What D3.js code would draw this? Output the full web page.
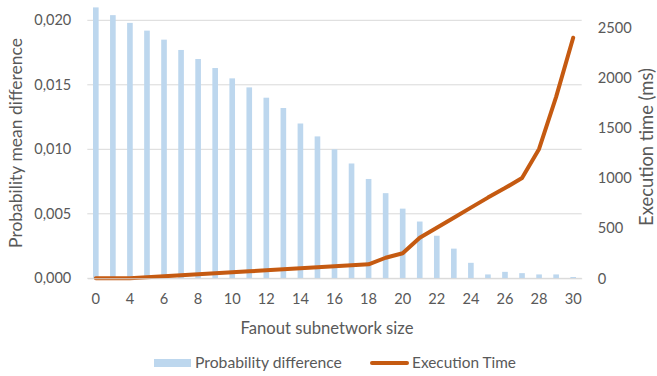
<!DOCTYPE html>
<html>
<head>
<meta charset="utf-8">
<script src="https://cdn.jsdelivr.net/npm/d3@7"></script>
<style>
  html, body { margin: 0; padding: 0; background: #fff; }
  svg { display: block; font-family: Lato, "Open Sans", sans-serif; }
</style>
</head>
<body>
<svg id="chart" width="657" height="376"></svg>
<script>
// Fanout subnetwork sizes (x categories)
const fanoutSizes = ["0", "2", "4", "5", "6", "7", "8", "9", "10", "11", "12", "13", "14", "15", "16",
  "17", "18", "19", "20", "21", "22", "23", "24", "25", "26", "27", "28", "29", "30"];

// Probability mean difference per fanout size (left axis, bars)
const probDiff = [0.0210, 0.0204, 0.0198, 0.0192, 0.0185, 0.0177, 0.0170, 0.0163, 0.0155, 0.0148,
  0.0140, 0.0132, 0.0120, 0.0110, 0.0100, 0.0089, 0.0077, 0.0066, 0.0054, 0.0044,
  0.0033, 0.0023, 0.0012, 0.0003, 0.0005, 0.0004, 0.0003, 0.0003, 0.0001];

// Execution time in ms per fanout size (right axis, line)
const execTime = [0, 0, 0, 10, 20, 30, 40, 50, 60, 70, 80, 90, 100, 110, 120, 130, 140,
  205, 250, 405, 505, 605, 705, 805, 900, 1000, 1290, 1810, 2400];

// Axis tick values
const leftTicks = [0, 0.005, 0.010, 0.015, 0.020];
const rightTicks = [0, 500, 1000, 1500, 2000, 2500];

const textColor = "#595959";
const gridColor = "#D9D9D9";
const barColor = "#BDD7EE";
const lineColor = "#C55A11";

const svg = d3.select("#chart");
const plot = { left: 87.3, right: 581.7, top: 20.3, bottom: 278.3 };

// Scale a text's font size so that it spans the given width
function fitText(sel, width) {
  sel.each(function () {
    const base = 16;
    this.style.fontSize = base + "px";
    const w = this.getComputedTextLength();
    if (w > 0) this.style.fontSize = (base * width / w).toFixed(2) + "px";
  });
}

const x = d3.scaleBand()
  .domain(fanoutSizes)
  .range([plot.left, plot.right])
  .paddingInner(0.67)
  .paddingOuter(0.335);

const yLeft = d3.scaleLinear().domain([0, 0.020]).range([plot.bottom, plot.top]);
const yRight = d3.scaleLinear().domain([0, 2500]).range([plot.bottom, 27.7]);

const fmtLeft = v => d3.format(".3f")(v).replace(".", ",");

// Gridlines from the left axis
svg.append("g")
  .selectAll("line")
  .data(leftTicks)
  .join("line")
  .attr("x1", plot.left).attr("x2", plot.right)
  .attr("y1", d => yLeft(d)).attr("y2", d => yLeft(d))
  .attr("stroke", gridColor).attr("stroke-width", 1);

// Bars
svg.append("g")
  .selectAll("rect")
  .data(fanoutSizes.map((k, i) => ({ k, v: probDiff[i] })))
  .join("rect")
  .attr("x", d => x(d.k))
  .attr("width", x.bandwidth())
  .attr("y", d => yLeft(d.v))
  .attr("height", d => yLeft(0) - yLeft(d.v))
  .attr("fill", barColor);

// Execution time line
const center = k => x(k) + x.bandwidth() / 2;
const line = d3.line()
  .x((d, i) => center(fanoutSizes[i]))
  .y(d => yRight(d));
svg.append("path")
  .datum(execTime)
  .attr("d", line)
  .attr("fill", "none")
  .attr("stroke", lineColor)
  .attr("stroke-width", 4)
  .attr("stroke-linejoin", "round")
  .attr("stroke-linecap", "round");

// Left axis
const leftAxis = svg.append("g")
  .attr("transform", `translate(${plot.left},0)`)
  .call(d3.axisLeft(yLeft).tickValues(leftTicks).tickFormat(fmtLeft).tickSize(0).tickPadding(16));
leftAxis.select(".domain").remove();
leftAxis.selectAll("text").attr("fill", textColor).style("font-family", "Lato, sans-serif");
fitText(leftAxis.selectAll("text"), 37);

// Right axis
const rightAxis = svg.append("g")
  .attr("transform", `translate(${plot.right},0)`)
  .call(d3.axisRight(yRight).tickValues(rightTicks).tickFormat(d3.format("d")).tickSize(0).tickPadding(16));
rightAxis.select(".domain").remove();
rightAxis.selectAll("text").attr("fill", textColor).style("font-family", "Lato, sans-serif");
const rightSize = (() => {
  const t = rightAxis.selectAll("text").filter(d => d === 2500);
  fitText(t, 34);
  return t.style("font-size");
})();
rightAxis.selectAll("text").style("font-size", rightSize);

// Bottom axis: every other category labelled
const bottomAxis = svg.append("g")
  .attr("transform", `translate(0,${plot.bottom})`)
  .call(d3.axisBottom(x).tickValues(fanoutSizes.filter((d, i) => i % 2 === 0)).tickSize(0).tickPadding(15));
bottomAxis.select(".domain").attr("stroke", gridColor);
bottomAxis.selectAll("text").attr("fill", textColor)
  .style("font-family", "Lato, sans-serif").style("font-size", rightSize);

// Axis titles
const leftTitle = svg.append("text")
  .attr("transform", `translate(22,143) rotate(-90)`)
  .attr("text-anchor", "middle")
  .attr("fill", textColor)
  .text("Probability mean difference");
fitText(leftTitle, 210);

const rightTitle = svg.append("text")
  .attr("transform", `translate(653,147) rotate(-90)`)
  .attr("text-anchor", "middle")
  .attr("fill", textColor)
  .text("Execution time (ms)");
fitText(rightTitle, 158);

const xTitle = svg.append("text")
  .attr("x", 327).attr("y", 334)
  .attr("text-anchor", "middle")
  .attr("fill", textColor)
  .text("Fanout subnetwork size");
fitText(xTitle, 173);

// Legend
const legend = svg.append("g");
legend.append("rect")
  .attr("x", 154).attr("y", 359).attr("width", 37).attr("height", 8)
  .attr("fill", barColor);
const lg1 = legend.append("text")
  .attr("x", 195).attr("y", 368)
  .attr("fill", textColor)
  .text("Probability difference");
fitText(lg1, 147);
legend.append("line")
  .attr("x1", 372).attr("x2", 407).attr("y1", 363).attr("y2", 363)
  .attr("stroke", lineColor).attr("stroke-width", 4).attr("stroke-linecap", "round");
const lg2 = legend.append("text")
  .attr("x", 412).attr("y", 368)
  .attr("fill", textColor)
  .text("Execution Time");
fitText(lg2, 104);
</script>
</body>
</html>
